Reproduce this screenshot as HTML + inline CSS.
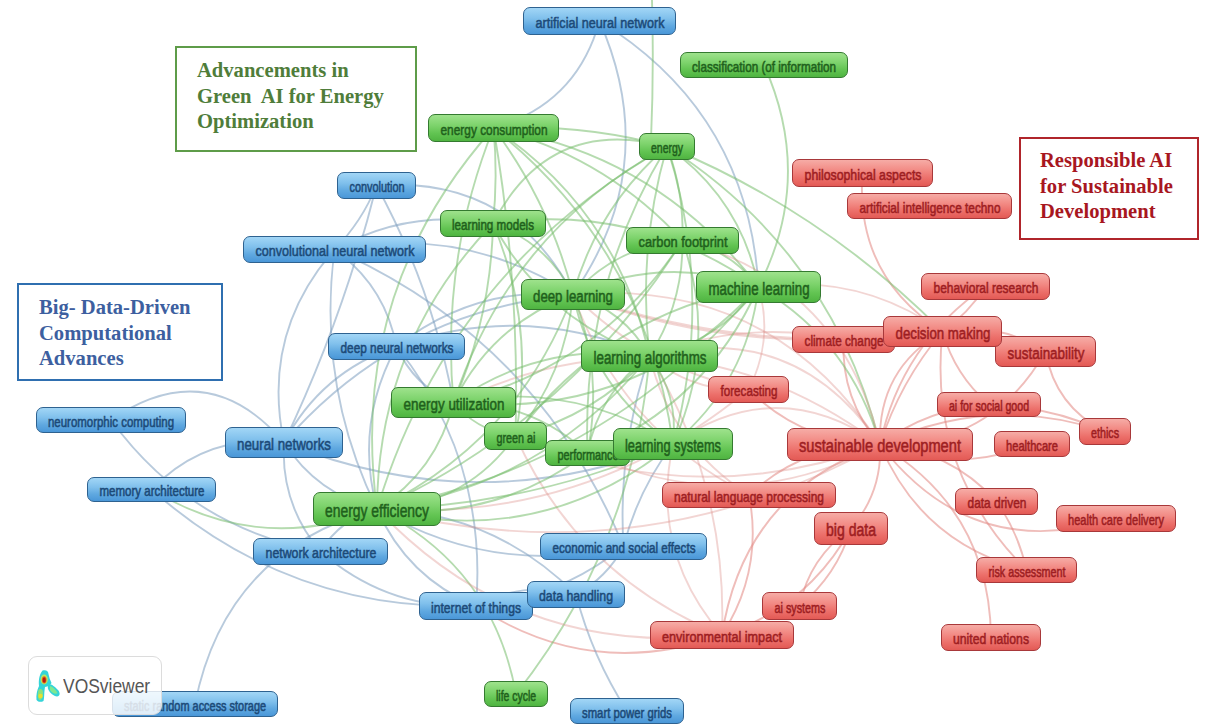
<!DOCTYPE html>
<html><head><meta charset="utf-8">
<style>
html,body{margin:0;padding:0;}
body{width:1208px;height:728px;overflow:hidden;background:#fff;position:relative;font-family:"Liberation Sans",sans-serif;}
svg.edges{position:absolute;left:0;top:0;}
.n{position:absolute;box-sizing:border-box;border-radius:7px;border:1.3px solid;white-space:nowrap;text-align:center;overflow:visible;}
.n span{position:absolute;left:50%;top:0.5px;transform-origin:0 50%;letter-spacing:0;-webkit-text-stroke:0.55px currentColor;}
.b{background:linear-gradient(#a2d6f6 0%,#80c0ec 40%,#5fa8e0 70%,#4a97d8 100%);border-color:#2e6290;color:#1c4a78;}
.g{background:linear-gradient(#9ee28c 0%,#7dd36c 40%,#62c452 70%,#4fb441 100%);border-color:#347a30;color:#1f611c;}
.r{background:linear-gradient(#f6aca6 0%,#f28a84 40%,#ec6f6a 70%,#e35a55 100%);border-color:#a8383a;color:#9e1e22;}
.tb{position:absolute;box-sizing:border-box;font-family:"Liberation Serif",serif;font-weight:bold;font-size:20.6px;line-height:25.7px;white-space:pre;background:#fff;}
</style></head><body>
<svg class="edges" width="1208" height="728" viewBox="0 0 1208 728" fill="none" stroke-linecap="round">
<path d="M599.5 21.0Q576.5 104.2 493.5 128.0" stroke="rgba(125,158,192,0.55)" stroke-width="1.9"/>
<path d="M599.5 21.0Q662.8 165.2 573.0 294.5" stroke="rgba(125,158,192,0.55)" stroke-width="1.9"/>
<path d="M599.5 21.0Q748.2 112.7 758.5 287.0" stroke="rgba(125,158,192,0.55)" stroke-width="1.9"/>
<path d="M376.5 185.5Q343.1 318.6 284.0 442.5" stroke="rgba(125,158,192,0.55)" stroke-width="1.9"/>
<path d="M376.5 185.5Q432.4 287.8 453.5 402.5" stroke="rgba(125,158,192,0.55)" stroke-width="1.9"/>
<path d="M376.5 185.5Q510.7 175.2 573.0 294.5" stroke="rgba(125,158,192,0.55)" stroke-width="1.9"/>
<path d="M376.5 185.5Q361.9 221.7 334.5 249.5" stroke="rgba(125,158,192,0.55)" stroke-width="1.9"/>
<path d="M334.5 249.5Q261.0 333.4 284.0 442.5" stroke="rgba(125,158,192,0.55)" stroke-width="1.9"/>
<path d="M334.5 249.5Q384.9 285.6 396.5 346.5" stroke="rgba(125,158,192,0.55)" stroke-width="1.9"/>
<path d="M334.5 249.5Q316.8 385.6 377.0 509.0" stroke="rgba(125,158,192,0.55)" stroke-width="1.9"/>
<path d="M334.5 249.5Q409.1 208.0 493.0 223.5" stroke="rgba(125,158,192,0.55)" stroke-width="1.9"/>
<path d="M334.5 249.5Q462.8 224.3 573.0 294.5" stroke="rgba(125,158,192,0.55)" stroke-width="1.9"/>
<path d="M334.5 249.5Q538.4 340.2 623.5 546.5" stroke="rgba(125,158,192,0.55)" stroke-width="1.9"/>
<path d="M396.5 346.5Q321.1 372.0 284.0 442.5" stroke="rgba(125,158,192,0.55)" stroke-width="1.9"/>
<path d="M396.5 346.5Q354.2 423.9 377.0 509.0" stroke="rgba(125,158,192,0.55)" stroke-width="1.9"/>
<path d="M396.5 346.5Q474.4 285.2 573.0 294.5" stroke="rgba(125,158,192,0.55)" stroke-width="1.9"/>
<path d="M396.5 346.5Q524.9 300.6 649.5 356.0" stroke="rgba(125,158,192,0.55)" stroke-width="1.9"/>
<path d="M396.5 346.5Q413.8 385.9 453.5 402.5" stroke="rgba(125,158,192,0.55)" stroke-width="1.9"/>
<path d="M396.5 346.5Q488.1 460.4 476.0 606.0" stroke="rgba(125,158,192,0.55)" stroke-width="1.9"/>
<path d="M111.0 420.0Q207.6 353.4 284.0 442.5" stroke="rgba(125,158,192,0.55)" stroke-width="1.9"/>
<path d="M111.0 420.0Q189.4 527.6 320.5 551.5" stroke="rgba(125,158,192,0.55)" stroke-width="1.9"/>
<path d="M151.5 489.5Q206.0 432.9 284.0 442.5" stroke="rgba(125,158,192,0.55)" stroke-width="1.9"/>
<path d="M476.0 606.0Q290.4 612.6 151.5 489.5" stroke="rgba(125,158,192,0.55)" stroke-width="1.9"/>
<path d="M377.0 509.0Q259.4 555.6 151.5 489.5" stroke="rgba(120,190,110,0.55)" stroke-width="1.9"/>
<path d="M320.5 551.5Q280.4 504.3 284.0 442.5" stroke="rgba(125,158,192,0.55)" stroke-width="1.9"/>
<path d="M320.5 551.5Q340.2 519.0 377.0 509.0" stroke="rgba(125,158,192,0.55)" stroke-width="1.9"/>
<path d="M320.5 551.5Q387.4 609.9 476.0 606.0" stroke="rgba(125,158,192,0.55)" stroke-width="1.9"/>
<path d="M284.0 442.5Q317.2 494.4 377.0 509.0" stroke="rgba(125,158,192,0.55)" stroke-width="1.9"/>
<path d="M284.0 442.5Q478.2 521.0 673.0 444.0" stroke="rgba(125,158,192,0.55)" stroke-width="1.9"/>
<path d="M284.0 442.5Q398.9 310.7 573.0 294.5" stroke="rgba(125,158,192,0.55)" stroke-width="1.9"/>
<path d="M377.0 509.0Q225.6 550.1 195.0 704.0" stroke="rgba(125,158,192,0.55)" stroke-width="1.9"/>
<path d="M623.5 546.5Q492.8 577.0 377.0 509.0" stroke="rgba(125,158,192,0.55)" stroke-width="1.9"/>
<path d="M623.5 546.5Q558.7 598.4 476.0 606.0" stroke="rgba(125,158,192,0.55)" stroke-width="1.9"/>
<path d="M623.5 546.5Q607.0 577.6 576.0 594.5" stroke="rgba(125,158,192,0.55)" stroke-width="1.9"/>
<path d="M623.5 546.5Q638.0 490.3 673.0 444.0" stroke="rgba(125,158,192,0.55)" stroke-width="1.9"/>
<path d="M623.5 546.5Q617.5 448.6 649.5 356.0" stroke="rgba(125,158,192,0.55)" stroke-width="1.9"/>
<path d="M476.0 606.0Q523.7 580.2 576.0 594.5" stroke="rgba(125,158,192,0.55)" stroke-width="1.9"/>
<path d="M476.0 606.0Q407.1 577.3 377.0 509.0" stroke="rgba(125,158,192,0.55)" stroke-width="1.9"/>
<path d="M722.0 635.0Q591.8 682.0 476.0 606.0" stroke="rgba(225,135,130,0.55)" stroke-width="1.9"/>
<path d="M576.0 594.5Q592.2 656.8 627.0 711.0" stroke="rgba(125,158,192,0.55)" stroke-width="1.9"/>
<path d="M576.0 594.5Q493.6 511.9 377.0 509.0" stroke="rgba(125,158,192,0.55)" stroke-width="1.9"/>
<path d="M377.0 509.0Q492.8 566.8 516.0 694.0" stroke="rgba(120,190,110,0.55)" stroke-width="1.9"/>
<path d="M649.5 356.0Q633.5 545.0 516.0 694.0" stroke="rgba(120,190,110,0.55)" stroke-width="1.9"/>
<path d="M862.5 173.0Q855.0 276.2 942.5 331.5" stroke="rgba(225,135,130,0.55)" stroke-width="1.9"/>
<path d="M985.5 286.5Q968.5 313.3 942.5 331.5" stroke="rgba(225,135,130,0.55)" stroke-width="1.9"/>
<path d="M985.5 286.5Q901.1 344.4 880.0 444.5" stroke="rgba(225,135,130,0.55)" stroke-width="1.9"/>
<path d="M843.5 339.5Q840.8 399.3 880.0 444.5" stroke="rgba(225,135,130,0.55)" stroke-width="1.9"/>
<path d="M843.5 339.5Q891.4 315.7 942.5 331.5" stroke="rgba(225,135,130,0.55)" stroke-width="1.9"/>
<path d="M942.5 331.5Q900.0 381.8 880.0 444.5" stroke="rgba(225,135,130,0.55)" stroke-width="1.9"/>
<path d="M942.5 331.5Q877.4 369.2 880.0 444.5" stroke="rgba(225,135,130,0.55)" stroke-width="1.9"/>
<path d="M942.5 331.5Q927.3 470.9 1026.5 570.0" stroke="rgba(225,135,130,0.55)" stroke-width="1.9"/>
<path d="M942.5 331.5Q954.8 375.0 989.0 404.5" stroke="rgba(225,135,130,0.55)" stroke-width="1.9"/>
<path d="M942.5 331.5Q998.0 320.9 1045.5 351.5" stroke="rgba(225,135,130,0.55)" stroke-width="1.9"/>
<path d="M1045.5 351.5Q990.6 447.6 880.0 444.5" stroke="rgba(225,135,130,0.55)" stroke-width="1.9"/>
<path d="M1045.5 351.5Q1055.2 406.4 1105.0 431.5" stroke="rgba(225,135,130,0.55)" stroke-width="1.9"/>
<path d="M989.0 404.5Q928.5 408.1 880.0 444.5" stroke="rgba(225,135,130,0.55)" stroke-width="1.9"/>
<path d="M989.0 404.5Q1049.7 406.4 1105.0 431.5" stroke="rgba(225,135,130,0.55)" stroke-width="1.9"/>
<path d="M880.0 444.5Q989.9 393.0 1105.0 431.5" stroke="rgba(225,135,130,0.55)" stroke-width="1.9"/>
<path d="M1032.0 444.0Q956.1 474.6 880.0 444.5" stroke="rgba(225,135,130,0.55)" stroke-width="1.9"/>
<path d="M996.5 501.5Q949.6 449.7 880.0 444.5" stroke="rgba(225,135,130,0.55)" stroke-width="1.9"/>
<path d="M880.0 444.5Q972.1 564.1 1116.0 518.5" stroke="rgba(225,135,130,0.55)" stroke-width="1.9"/>
<path d="M880.0 444.5Q921.9 543.9 1026.5 570.0" stroke="rgba(225,135,130,0.55)" stroke-width="1.9"/>
<path d="M880.0 444.5Q989.5 509.9 991.0 637.5" stroke="rgba(225,135,130,0.55)" stroke-width="1.9"/>
<path d="M880.0 444.5Q882.3 492.3 851.0 528.5" stroke="rgba(225,135,130,0.55)" stroke-width="1.9"/>
<path d="M749.0 495.0Q804.4 443.6 880.0 444.5" stroke="rgba(225,135,130,0.55)" stroke-width="1.9"/>
<path d="M722.0 635.0Q743.9 492.4 880.0 444.5" stroke="rgba(225,135,130,0.55)" stroke-width="1.9"/>
<path d="M748.5 389.5Q803.2 443.3 880.0 444.5" stroke="rgba(225,135,130,0.55)" stroke-width="1.9"/>
<path d="M996.5 501.5Q1018.4 532.8 1026.5 570.0" stroke="rgba(225,135,130,0.55)" stroke-width="1.9"/>
<path d="M851.0 528.5Q809.8 557.0 799.5 606.0" stroke="rgba(225,135,130,0.55)" stroke-width="1.9"/>
<path d="M851.0 528.5Q836.9 575.0 799.5 606.0" stroke="rgba(225,135,130,0.55)" stroke-width="1.9"/>
<path d="M851.0 528.5Q807.8 607.5 722.0 635.0" stroke="rgba(225,135,130,0.55)" stroke-width="1.9"/>
<path d="M749.0 495.0Q763.5 570.4 722.0 635.0" stroke="rgba(225,135,130,0.55)" stroke-width="1.9"/>
<path d="M722.0 635.0Q649.8 551.8 673.0 444.0" stroke="rgba(220,145,140,0.38)" stroke-width="1.9"/>
<path d="M722.0 635.0Q727.6 484.6 649.5 356.0" stroke="rgba(220,145,140,0.38)" stroke-width="1.9"/>
<path d="M722.0 635.0Q518.0 658.2 377.0 509.0" stroke="rgba(220,145,140,0.38)" stroke-width="1.9"/>
<path d="M722.0 635.0Q579.0 576.8 515.5 436.0" stroke="rgba(220,145,140,0.38)" stroke-width="1.9"/>
<path d="M880.0 444.5Q795.7 319.6 649.5 356.0" stroke="rgba(220,145,140,0.38)" stroke-width="1.9"/>
<path d="M880.0 444.5Q776.7 371.8 673.0 444.0" stroke="rgba(220,145,140,0.38)" stroke-width="1.9"/>
<path d="M880.0 444.5Q771.5 277.4 573.0 294.5" stroke="rgba(220,145,140,0.38)" stroke-width="1.9"/>
<path d="M880.0 444.5Q641.4 577.4 377.0 509.0" stroke="rgba(220,145,140,0.38)" stroke-width="1.9"/>
<path d="M880.0 444.5Q679.4 295.6 453.5 402.5" stroke="rgba(220,145,140,0.38)" stroke-width="1.9"/>
<path d="M880.0 444.5Q696.0 513.1 515.5 436.0" stroke="rgba(220,145,140,0.38)" stroke-width="1.9"/>
<path d="M758.5 287.0Q850.8 341.4 880.0 444.5" stroke="rgba(120,190,110,0.55)" stroke-width="1.9"/>
<path d="M667.0 146.5Q833.1 252.9 880.0 444.5" stroke="rgba(120,190,110,0.55)" stroke-width="1.9"/>
<path d="M843.5 339.5Q703.8 344.1 573.0 294.5" stroke="rgba(220,145,140,0.38)" stroke-width="1.9"/>
<path d="M843.5 339.5Q744.0 318.6 649.5 356.0" stroke="rgba(220,145,140,0.38)" stroke-width="1.9"/>
<path d="M942.5 331.5Q859.4 272.4 758.5 287.0" stroke="rgba(220,145,140,0.38)" stroke-width="1.9"/>
<path d="M667.0 146.5Q823.2 211.4 942.5 331.5" stroke="rgba(120,190,110,0.55)" stroke-width="1.9"/>
<path d="M942.5 331.5Q753.3 357.3 573.0 294.5" stroke="rgba(220,145,140,0.38)" stroke-width="1.9"/>
<path d="M748.5 389.5Q774.0 340.2 758.5 287.0" stroke="rgba(220,145,140,0.38)" stroke-width="1.9"/>
<path d="M748.5 389.5Q692.3 392.6 649.5 356.0" stroke="rgba(220,145,140,0.38)" stroke-width="1.9"/>
<path d="M748.5 389.5Q646.5 368.3 573.0 294.5" stroke="rgba(220,145,140,0.38)" stroke-width="1.9"/>
<path d="M748.5 389.5Q586.6 523.5 377.0 509.0" stroke="rgba(220,145,140,0.38)" stroke-width="1.9"/>
<path d="M749.0 495.0Q620.9 429.9 573.0 294.5" stroke="rgba(220,145,140,0.38)" stroke-width="1.9"/>
<path d="M749.0 495.0Q671.5 445.4 649.5 356.0" stroke="rgba(220,145,140,0.38)" stroke-width="1.9"/>
<path d="M493.5 128.0Q581.7 123.4 667.0 146.5" stroke="rgba(120,190,110,0.55)" stroke-width="1.9"/>
<path d="M493.5 128.0Q498.0 175.8 493.0 223.5" stroke="rgba(120,190,110,0.55)" stroke-width="1.9"/>
<path d="M493.5 128.0Q549.9 203.3 573.0 294.5" stroke="rgba(120,190,110,0.55)" stroke-width="1.9"/>
<path d="M493.5 128.0Q347.6 291.7 377.0 509.0" stroke="rgba(120,190,110,0.55)" stroke-width="1.9"/>
<path d="M493.5 128.0Q440.6 260.4 453.5 402.5" stroke="rgba(120,190,110,0.55)" stroke-width="1.9"/>
<path d="M493.5 128.0Q617.1 210.8 649.5 356.0" stroke="rgba(120,190,110,0.55)" stroke-width="1.9"/>
<path d="M493.5 128.0Q657.8 154.5 758.5 287.0" stroke="rgba(120,190,110,0.55)" stroke-width="1.9"/>
<path d="M493.5 128.0Q604.9 155.9 682.5 240.5" stroke="rgba(120,190,110,0.55)" stroke-width="1.9"/>
<path d="M493.5 128.0Q519.9 280.9 515.5 436.0" stroke="rgba(120,190,110,0.55)" stroke-width="1.9"/>
<path d="M493.5 128.0Q646.5 250.1 673.0 444.0" stroke="rgba(120,190,110,0.55)" stroke-width="1.9"/>
<path d="M667.0 146.5Q740.9 198.4 758.5 287.0" stroke="rgba(120,190,110,0.55)" stroke-width="1.9"/>
<path d="M667.0 146.5Q684.1 191.9 682.5 240.5" stroke="rgba(120,190,110,0.55)" stroke-width="1.9"/>
<path d="M667.0 146.5Q597.8 206.4 573.0 294.5" stroke="rgba(120,190,110,0.55)" stroke-width="1.9"/>
<path d="M667.0 146.5Q449.5 269.8 377.0 509.0" stroke="rgba(120,190,110,0.55)" stroke-width="1.9"/>
<path d="M667.0 146.5Q509.1 231.8 453.5 402.5" stroke="rgba(120,190,110,0.55)" stroke-width="1.9"/>
<path d="M667.0 146.5Q637.3 249.5 649.5 356.0" stroke="rgba(120,190,110,0.55)" stroke-width="1.9"/>
<path d="M667.0 146.5Q714.6 294.4 673.0 444.0" stroke="rgba(120,190,110,0.55)" stroke-width="1.9"/>
<path d="M667.0 146.5Q581.3 287.8 587.5 453.0" stroke="rgba(120,190,110,0.55)" stroke-width="1.9"/>
<path d="M667.0 146.5Q549.2 115.4 493.0 223.5" stroke="rgba(120,190,110,0.55)" stroke-width="1.9"/>
<path d="M493.0 223.5Q547.2 243.0 573.0 294.5" stroke="rgba(120,190,110,0.55)" stroke-width="1.9"/>
<path d="M493.0 223.5Q377.9 343.1 377.0 509.0" stroke="rgba(120,190,110,0.55)" stroke-width="1.9"/>
<path d="M493.0 223.5Q544.8 321.1 649.5 356.0" stroke="rgba(120,190,110,0.55)" stroke-width="1.9"/>
<path d="M493.0 223.5Q491.1 316.9 453.5 402.5" stroke="rgba(120,190,110,0.55)" stroke-width="1.9"/>
<path d="M493.0 223.5Q638.5 202.2 758.5 287.0" stroke="rgba(120,190,110,0.55)" stroke-width="1.9"/>
<path d="M493.0 223.5Q536.1 326.4 515.5 436.0" stroke="rgba(120,190,110,0.55)" stroke-width="1.9"/>
<path d="M682.5 240.5Q729.8 248.6 758.5 287.0" stroke="rgba(120,190,110,0.55)" stroke-width="1.9"/>
<path d="M682.5 240.5Q617.0 245.6 573.0 294.5" stroke="rgba(120,190,110,0.55)" stroke-width="1.9"/>
<path d="M682.5 240.5Q683.3 303.2 649.5 356.0" stroke="rgba(120,190,110,0.55)" stroke-width="1.9"/>
<path d="M682.5 240.5Q570.0 420.6 377.0 509.0" stroke="rgba(120,190,110,0.55)" stroke-width="1.9"/>
<path d="M682.5 240.5Q600.4 367.3 453.5 402.5" stroke="rgba(120,190,110,0.55)" stroke-width="1.9"/>
<path d="M682.5 240.5Q718.5 344.1 673.0 444.0" stroke="rgba(120,190,110,0.55)" stroke-width="1.9"/>
<path d="M573.0 294.5Q664.2 253.7 758.5 287.0" stroke="rgba(120,190,110,0.55)" stroke-width="1.9"/>
<path d="M573.0 294.5Q623.5 309.9 649.5 356.0" stroke="rgba(120,190,110,0.55)" stroke-width="1.9"/>
<path d="M573.0 294.5Q517.9 440.9 377.0 509.0" stroke="rgba(120,190,110,0.55)" stroke-width="1.9"/>
<path d="M573.0 294.5Q491.6 324.6 453.5 402.5" stroke="rgba(120,190,110,0.55)" stroke-width="1.9"/>
<path d="M573.0 294.5Q565.5 373.9 515.5 436.0" stroke="rgba(120,190,110,0.55)" stroke-width="1.9"/>
<path d="M573.0 294.5Q593.1 389.2 673.0 444.0" stroke="rgba(120,190,110,0.55)" stroke-width="1.9"/>
<path d="M573.0 294.5Q604.0 371.6 587.5 453.0" stroke="rgba(120,190,110,0.55)" stroke-width="1.9"/>
<path d="M758.5 287.0Q717.8 343.3 649.5 356.0" stroke="rgba(120,190,110,0.55)" stroke-width="1.9"/>
<path d="M758.5 287.0Q607.7 466.7 377.0 509.0" stroke="rgba(120,190,110,0.55)" stroke-width="1.9"/>
<path d="M758.5 287.0Q634.9 421.0 453.5 402.5" stroke="rgba(120,190,110,0.55)" stroke-width="1.9"/>
<path d="M758.5 287.0Q747.1 382.6 673.0 444.0" stroke="rgba(120,190,110,0.55)" stroke-width="1.9"/>
<path d="M758.5 287.0Q607.2 312.9 515.5 436.0" stroke="rgba(120,190,110,0.55)" stroke-width="1.9"/>
<path d="M758.5 287.0Q706.2 404.2 587.5 453.0" stroke="rgba(120,190,110,0.55)" stroke-width="1.9"/>
<path d="M649.5 356.0Q543.9 487.0 377.0 509.0" stroke="rgba(120,190,110,0.55)" stroke-width="1.9"/>
<path d="M649.5 356.0Q542.2 340.1 453.5 402.5" stroke="rgba(120,190,110,0.55)" stroke-width="1.9"/>
<path d="M649.5 356.0Q678.9 395.3 673.0 444.0" stroke="rgba(120,190,110,0.55)" stroke-width="1.9"/>
<path d="M649.5 356.0Q599.1 392.1 587.5 453.0" stroke="rgba(120,190,110,0.55)" stroke-width="1.9"/>
<path d="M649.5 356.0Q594.5 416.1 515.5 436.0" stroke="rgba(120,190,110,0.55)" stroke-width="1.9"/>
<path d="M453.5 402.5Q436.6 471.1 377.0 509.0" stroke="rgba(120,190,110,0.55)" stroke-width="1.9"/>
<path d="M453.5 402.5Q571.5 379.4 673.0 444.0" stroke="rgba(120,190,110,0.55)" stroke-width="1.9"/>
<path d="M453.5 402.5Q477.8 431.6 515.5 436.0" stroke="rgba(120,190,110,0.55)" stroke-width="1.9"/>
<path d="M453.5 402.5Q530.6 400.9 587.5 453.0" stroke="rgba(120,190,110,0.55)" stroke-width="1.9"/>
<path d="M515.5 436.0Q464.5 507.1 377.0 509.0" stroke="rgba(120,190,110,0.55)" stroke-width="1.9"/>
<path d="M515.5 436.0Q592.6 471.5 673.0 444.0" stroke="rgba(120,190,110,0.55)" stroke-width="1.9"/>
<path d="M587.5 453.0Q493.4 523.1 377.0 509.0" stroke="rgba(120,190,110,0.55)" stroke-width="1.9"/>
<path d="M673.0 444.0Q541.2 550.5 377.0 509.0" stroke="rgba(120,190,110,0.55)" stroke-width="1.9"/>
<path d="M673.0 444.0Q531.5 506.1 377.0 509.0" stroke="rgba(120,190,110,0.55)" stroke-width="1.9"/>
<path d="M764.0 65.0Q814.5 177.3 758.5 287.0" stroke="rgba(120,190,110,0.55)" stroke-width="1.9"/>
<path d="M880.0 444.5Q842.5 283.2 682.5 240.5" stroke="rgba(220,145,140,0.38)" stroke-width="1.9"/>
<path d="M880.0 444.5Q735.9 521.9 587.5 453.0" stroke="rgba(220,145,140,0.38)" stroke-width="1.9"/>
<path d="M652 0Q654 70 651 140" stroke="rgba(120,190,110,0.55)" stroke-width="1.9"/>
</svg>
<div class="tb" style="left:175px;top:46px;width:242px;height:106px;border:2.6px solid #5e9c49;color:#4f7d3a;padding:10px 0 0 20px;">Advancements in
Green  AI for Energy
Optimization</div>
<div class="tb" style="left:1019px;top:137px;width:180px;height:103px;border:2.6px solid #b0252b;color:#a8171f;padding:9px 0 0 19px;">Responsible AI
for Sustainable
Development</div>
<div class="tb" style="left:17px;top:283px;width:206px;height:98px;border:2.6px solid #2f6fb0;color:#3d5fa0;padding:10px 0 0 20px;">Big- Data-Driven
Computational
Advances</div>
<div class="n b" style="left:523px;top:7px;width:153px;height:28px"><span style="font-size:15.4px;line-height:28px;transform:scaleX(0.819) translateX(-50%)">artificial neural network</span></div>
<div class="n b" style="left:337px;top:172px;width:79px;height:27px"><span style="font-size:14.85px;line-height:27px;transform:scaleX(0.732) translateX(-50%)">convolution</span></div>
<div class="n b" style="left:243px;top:236px;width:183px;height:27px"><span style="font-size:14.85px;line-height:27px;transform:scaleX(0.845) translateX(-50%)">convolutional neural network</span></div>
<div class="n b" style="left:328px;top:333px;width:137px;height:27px"><span style="font-size:14.85px;line-height:27px;transform:scaleX(0.796) translateX(-50%)">deep neural networks</span></div>
<div class="n b" style="left:36px;top:407px;width:150px;height:26px"><span style="font-size:14.3px;line-height:26px;transform:scaleX(0.801) translateX(-50%)">neuromorphic computing</span></div>
<div class="n b" style="left:225px;top:427px;width:118px;height:31px"><span style="font-size:17.05px;line-height:31px;transform:scaleX(0.781) translateX(-50%)">neural networks</span></div>
<div class="n b" style="left:87px;top:477px;width:129px;height:25px"><span style="font-size:13.75px;line-height:25px;transform:scaleX(0.838) translateX(-50%)">memory architecture</span></div>
<div class="n b" style="left:253px;top:538px;width:135px;height:27px"><span style="font-size:14.85px;line-height:27px;transform:scaleX(0.830) translateX(-50%)">network architecture</span></div>
<div class="n b" style="left:112px;top:691px;width:166px;height:26px"><span style="font-size:14.3px;line-height:26px;transform:scaleX(0.764) translateX(-50%)">static random access storage</span></div>
<div class="n b" style="left:540px;top:533px;width:167px;height:27px"><span style="font-size:14.85px;line-height:27px;transform:scaleX(0.785) translateX(-50%)">economic and social effects</span></div>
<div class="n b" style="left:419px;top:592px;width:114px;height:28px"><span style="font-size:15.4px;line-height:28px;transform:scaleX(0.791) translateX(-50%)">internet of things</span></div>
<div class="n b" style="left:527px;top:581px;width:98px;height:27px"><span style="font-size:14.85px;line-height:27px;transform:scaleX(0.830) translateX(-50%)">data handling</span></div>
<div class="n b" style="left:570px;top:698px;width:114px;height:26px"><span style="font-size:14.3px;line-height:26px;transform:scaleX(0.792) translateX(-50%)">smart power grids</span></div>
<div class="n g" style="left:680px;top:52px;width:168px;height:26px"><span style="font-size:14.3px;line-height:26px;transform:scaleX(0.816) translateX(-50%)">classification (of information</span></div>
<div class="n g" style="left:428px;top:114px;width:131px;height:28px"><span style="font-size:15.4px;line-height:28px;transform:scaleX(0.772) translateX(-50%)">energy consumption</span></div>
<div class="n g" style="left:639px;top:133px;width:56px;height:27px"><span style="font-size:14.85px;line-height:27px;transform:scaleX(0.705) translateX(-50%)">energy</span></div>
<div class="n g" style="left:440px;top:210px;width:106px;height:27px"><span style="font-size:14.85px;line-height:27px;transform:scaleX(0.782) translateX(-50%)">learning models</span></div>
<div class="n g" style="left:626px;top:227px;width:113px;height:27px"><span style="font-size:14.85px;line-height:27px;transform:scaleX(0.863) translateX(-50%)">carbon footprint</span></div>
<div class="n g" style="left:521px;top:279px;width:104px;height:31px"><span style="font-size:17.05px;line-height:31px;transform:scaleX(0.774) translateX(-50%)">deep learning</span></div>
<div class="n g" style="left:696px;top:271px;width:125px;height:32px"><span style="font-size:17.6px;line-height:32px;transform:scaleX(0.754) translateX(-50%)">machine learning</span></div>
<div class="n g" style="left:581px;top:340px;width:137px;height:32px"><span style="font-size:17.6px;line-height:32px;transform:scaleX(0.760) translateX(-50%)">learning algorithms</span></div>
<div class="n g" style="left:391px;top:387px;width:125px;height:31px"><span style="font-size:17.05px;line-height:31px;transform:scaleX(0.789) translateX(-50%)">energy utilization</span></div>
<div class="n g" style="left:484px;top:422px;width:63px;height:28px"><span style="font-size:15.4px;line-height:28px;transform:scaleX(0.701) translateX(-50%)">green ai</span></div>
<div class="n g" style="left:545px;top:440px;width:85px;height:26px"><span style="font-size:14.3px;line-height:26px;transform:scaleX(0.760) translateX(-50%)">performance</span></div>
<div class="n g" style="left:613px;top:428px;width:120px;height:32px"><span style="font-size:17.6px;line-height:32px;transform:scaleX(0.727) translateX(-50%)">learning systems</span></div>
<div class="n g" style="left:313px;top:492px;width:128px;height:34px"><span style="font-size:18.7px;line-height:34px;transform:scaleX(0.743) translateX(-50%)">energy efficiency</span></div>
<div class="n g" style="left:484px;top:681px;width:64px;height:26px"><span style="font-size:14.3px;line-height:26px;transform:scaleX(0.730) translateX(-50%)">life cycle</span></div>
<div class="n r" style="left:792px;top:159px;width:141px;height:28px"><span style="font-size:15.4px;line-height:28px;transform:scaleX(0.799) translateX(-50%)">philosophical aspects</span></div>
<div class="n r" style="left:847px;top:193px;width:165px;height:26px"><span style="font-size:14.3px;line-height:26px;transform:scaleX(0.825) translateX(-50%)">artificial intelligence techno</span></div>
<div class="n r" style="left:921px;top:273px;width:129px;height:27px"><span style="font-size:14.85px;line-height:27px;transform:scaleX(0.805) translateX(-50%)">behavioral research</span></div>
<div class="n r" style="left:792px;top:326px;width:103px;height:27px"><span style="font-size:14.85px;line-height:27px;transform:scaleX(0.791) translateX(-50%)">climate change</span></div>
<div class="n r" style="left:995px;top:336px;width:101px;height:31px"><span style="font-size:17.05px;line-height:31px;transform:scaleX(0.789) translateX(-50%)">sustainability</span></div>
<div class="n r" style="left:883px;top:316px;width:119px;height:31px"><span style="font-size:17.05px;line-height:31px;transform:scaleX(0.777) translateX(-50%)">decision making</span></div>
<div class="n r" style="left:708px;top:376px;width:81px;height:27px"><span style="font-size:14.85px;line-height:27px;transform:scaleX(0.785) translateX(-50%)">forecasting</span></div>
<div class="n r" style="left:937px;top:392px;width:104px;height:25px"><span style="font-size:13.75px;line-height:25px;transform:scaleX(0.770) translateX(-50%)">ai for social good</span></div>
<div class="n r" style="left:1079px;top:418px;width:52px;height:27px"><span style="font-size:14.85px;line-height:27px;transform:scaleX(0.722) translateX(-50%)">ethics</span></div>
<div class="n r" style="left:994px;top:431px;width:76px;height:26px"><span style="font-size:14.3px;line-height:26px;transform:scaleX(0.779) translateX(-50%)">healthcare</span></div>
<div class="n r" style="left:787px;top:428px;width:186px;height:33px"><span style="font-size:18.15px;line-height:33px;transform:scaleX(0.807) translateX(-50%)">sustainable development</span></div>
<div class="n r" style="left:662px;top:482px;width:174px;height:26px"><span style="font-size:14.3px;line-height:26px;transform:scaleX(0.835) translateX(-50%)">natural language processing</span></div>
<div class="n r" style="left:814px;top:512px;width:74px;height:33px"><span style="font-size:18.15px;line-height:33px;transform:scaleX(0.774) translateX(-50%)">big data</span></div>
<div class="n r" style="left:955px;top:488px;width:83px;height:27px"><span style="font-size:14.85px;line-height:27px;transform:scaleX(0.803) translateX(-50%)">data driven</span></div>
<div class="n r" style="left:1056px;top:505px;width:120px;height:27px"><span style="font-size:14.85px;line-height:27px;transform:scaleX(0.746) translateX(-50%)">health care delivery</span></div>
<div class="n r" style="left:976px;top:557px;width:101px;height:26px"><span style="font-size:14.3px;line-height:26px;transform:scaleX(0.751) translateX(-50%)">risk assessment</span></div>
<div class="n r" style="left:762px;top:592px;width:75px;height:28px"><span style="font-size:15.4px;line-height:28px;transform:scaleX(0.701) translateX(-50%)">ai systems</span></div>
<div class="n r" style="left:650px;top:621px;width:144px;height:28px"><span style="font-size:15.4px;line-height:28px;transform:scaleX(0.820) translateX(-50%)">environmental impact</span></div>
<div class="n r" style="left:941px;top:624px;width:100px;height:27px"><span style="font-size:14.85px;line-height:27px;transform:scaleX(0.822) translateX(-50%)">united nations</span></div>
<div style="position:absolute;left:28px;top:656px;width:134px;height:59px;box-sizing:border-box;border:1.5px solid #dcdcdc;border-radius:9px;background:rgba(255,255,255,0.82);"></div>
<svg style="position:absolute;left:0;top:0" width="1208" height="728" viewBox="0 0 1208 728">
<path d="M42.5 670.5 C46 669.5 48.5 671 48.5 674 C49 677 50 680 51.5 683 C50.5 685 48 686.5 45 687 C44 692 44.5 698 43.5 701 C41 702.5 38 702 36.5 700 C36 695 37 690 39 686 C38.5 681 39 675 42.5 670.5Z" fill="#35d4d8"/>
<path d="M48.5 684 C52 684 55 687 58 690 C60.5 693 60 696 57 696.5 C53.5 696 50 693 48.5 690 C47.5 688 47.5 685.5 48.5 684Z" fill="#35d4d8"/>
<path d="M50 686 C53 687 56 690 57.5 693 C56 695 52 693 50 690Z" fill="#7fe890"/>
<path d="M38.5 690 C40.5 688 43 689 43 693 C43 697 42 700 39.5 700 C37.5 699 37.5 694 38.5 690Z" fill="#8ee27a"/>
<circle cx="40.5" cy="696" r="2.2" fill="#e8e030"/>
<ellipse cx="44.2" cy="679.5" rx="3.6" ry="5" fill="#b8e860"/>
<ellipse cx="44.2" cy="679.8" rx="2.4" ry="3.6" fill="#e07020"/>
<ellipse cx="44.2" cy="680" rx="1.6" ry="2.8" fill="#b81810"/>
</svg>
<div style="position:absolute;left:63px;top:671.5px;font-family:'Liberation Sans',sans-serif;font-size:21px;line-height:28px;color:#555555;transform-origin:0 50%;transform:scaleX(0.83);">VOSviewer</div>
</body></html>
